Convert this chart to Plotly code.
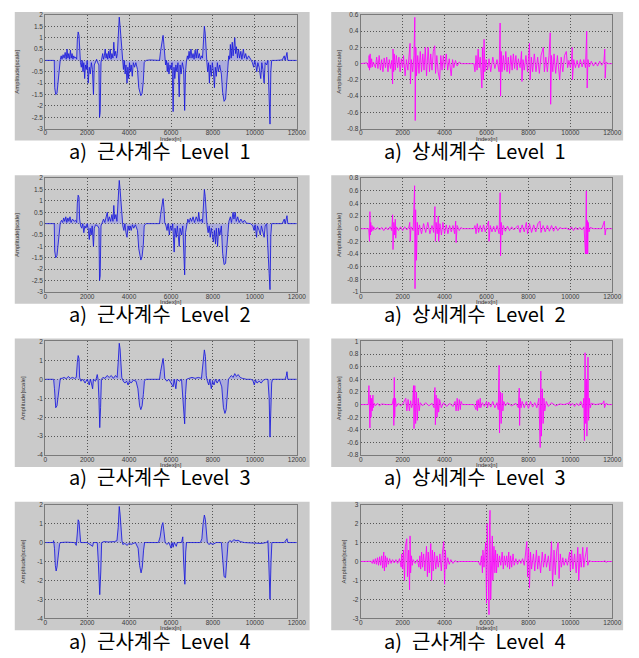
import plotly.graph_objects as go

# ---------------- data (index, amplitude) ----------------
APPROX_L1 = [(0,0),(400,0.02),(430,0),(450,-1.2),(500,-1.5),(560,-1.45),(600,-1.0),(650,-0.5),(700,-0.15),(720,0.05),
(760,0.2),(800,0.05),(850,0.25),(900,0.1),(950,0.35),(1000,0.05),(1040,0.5),(1080,0.1),(1120,0.3),(1160,0.05),(1200,0.45),(1240,0.1),(1280,0.3),(1320,0.05),(1360,0.2),(1400,0.1),(1450,0.15),(1500,0.05),
(1530,0.9),(1570,1.25),(1610,1.1),(1640,0.2),
(1680,-0.1),(1720,-0.3),(1760,0),(1800,-0.5),(1840,-0.1),(1880,-0.8),(1920,-0.2),(1960,-0.4),(2000,0),(2050,-1.0),(2100,-0.3),(2150,-0.6),(2200,-0.1),(2250,-0.4),(2300,-1.5),(2340,-0.2),(2400,-0.1),(2450,0.05),(2500,-0.1),(2560,-0.2),(2590,-2.5),(2620,-2.3),(2660,-0.1),
(2700,0.1),(2740,0.3),(2780,0.05),(2820,0.2),(2860,0.5),(2900,0.1),(2940,0.3),(2980,0.05),(3020,0.4),(3060,0.1),(3100,0.5),(3140,0.05),(3180,0.3),(3230,0.1),(3270,0.8),(3310,0.2),(3360,0.4),(3400,0.1),(3440,0.3),
(3480,1.0),(3530,1.9),(3570,1.5),(3610,1.0),(3650,0.3),
(3690,-0.1),(3730,-0.4),(3770,0),(3810,-0.6),(3850,-0.2),(3900,-1.0),(3940,-0.3),(3980,-0.8),(4020,-0.1),(4060,-0.5),(4100,-0.2),(4150,-0.7),(4200,-0.1),(4260,-0.3),(4320,-0.1),(4400,-0.4),(4460,-1.2),(4560,-1.55),(4620,-1.45),(4680,-0.9),(4720,-0.1),
(4800,0),(5000,0.02),(5200,0),(5450,0),
(5500,0.4),(5570,0.9),(5620,1.1),(5660,0.7),(5700,0.05),
(5740,-0.2),(5780,0),(5820,-0.5),(5860,-0.1),(5900,-0.6),(5950,-0.2),(6000,-0.4),(6050,-0.1),(6100,-2.25),(6140,-0.3),(6180,-0.8),(6230,-0.2),(6280,-0.5),(6330,-0.1),(6390,-1.6),(6430,-0.2),(6480,-0.6),(6540,-0.1),(6600,-0.4),(6650,-2.2),(6690,-0.5),(6740,0),
(6780,0.2),(6820,0.05),(6860,0.4),(6900,0.1),(6950,0.5),(7000,0.1),(7050,0.3),(7100,0.05),(7150,0.45),(7200,0.1),(7250,0.5),(7300,0.1),(7350,0.3),(7400,0.05),(7450,0.2),(7500,0.1),
(7540,1.0),(7590,1.5),(7630,1.2),(7670,0.3),
(7710,-0.1),(7750,-0.5),(7790,-0.1),(7830,-1.0),(7870,-0.2),(7920,-0.7),(7970,-0.1),(8020,-0.5),(8070,-1.2),(8110,-0.3),(8160,-0.7),(8210,-0.1),(8260,-0.5),(8320,-0.2),(8400,-0.6),(8460,-1.4),(8530,-1.8),(8600,-1.7),(8660,-1.0),(8710,-0.1),
(8750,0.2),(8790,0.05),(8830,0.7),(8870,0.1),(8920,0.8),(8960,0.2),(9040,1.0),(9080,0.3),(9120,0.6),(9170,0.1),(9220,0.5),(9270,0.1),(9330,0.4),(9380,0.05),(9450,0.5),(9500,0.1),(9560,0.3),(9620,0.05),(9700,0.2),(9800,0.05),
(9880,-0.1),(9940,-0.3),(9990,0),(10040,-0.2),(10090,-0.5),(10140,-0.1),(10200,-0.3),(10280,-0.8),(10330,-0.1),(10380,-0.4),(10440,-1.0),(10490,-0.1),(10560,-0.2),(10620,0),(10680,-2.0),(10720,-2.8),(10760,-0.5),(10800,0),
(11000,0),(11300,0.02),(11400,0.2),(11440,0),(11530,0.35),(11570,0),(11800,0),(12000,0)]

APPROX_L2 = [(0,0),(400,0.02),(430,0),(450,-1.2),(500,-1.5),(560,-1.4),(620,-0.8),(680,-0.2),(720,0.05),
(780,0.15),(830,0.05),(880,0.25),(930,0.1),(980,0.3),(1030,0.05),(1080,0.25),(1130,0.1),(1180,0.3),(1230,0.05),(1300,0.2),(1380,0.1),(1450,0.15),(1500,0.05),
(1530,0.9),(1570,1.25),(1610,1.15),(1640,0.2),
(1690,-0.1),(1740,-0.2),(1790,0),(1840,-0.4),(1890,-0.1),(1940,-0.2),(2000,0),(2060,-0.3),(2100,-0.7),(2140,-0.2),(2190,-0.5),(2240,-0.1),(2300,-1.0),(2340,-0.2),(2400,-0.05),(2500,-0.1),(2560,-0.2),(2590,-2.5),(2620,-2.3),(2660,-0.1),
(2720,0.1),(2780,0.2),(2840,0.05),(2900,0.3),(2960,0.5),(3000,0.1),(3060,0.3),(3120,0.1),(3180,0.4),(3230,0.1),(3270,0.8),(3310,0.2),(3370,0.4),(3420,0.1),
(3480,1.0),(3530,1.9),(3570,1.5),(3610,1.0),(3650,0.2),
(3700,-0.1),(3750,-0.3),(3800,0),(3850,-0.4),(3900,-0.6),(3950,-0.1),(4000,-0.3),(4050,-0.1),(4100,-0.3),(4160,-0.05),(4220,-0.2),(4300,-0.05),(4400,-0.3),(4460,-1.1),(4560,-1.6),(4620,-1.45),(4680,-0.9),(4720,-0.1),
(4800,0),(5200,0),(5450,0),
(5500,0.4),(5570,0.9),(5620,1.1),(5660,0.7),(5700,0.05),
(5760,-0.1),(5810,-0.3),(5860,0),(5920,-0.5),(5970,-0.1),(6030,-0.3),(6080,0),(6150,-1.25),(6190,-0.2),(6250,-0.6),(6300,-0.1),(6390,-1.0),(6430,-0.2),(6500,-0.5),(6560,-0.1),(6650,-2.25),(6690,-0.4),(6740,0),
(6800,0.2),(6860,0.05),(6920,0.25),(6980,0.1),(7050,0.3),(7120,0.05),(7200,0.3),(7280,0.1),(7320,0.5),(7370,0.1),(7450,0.2),(7500,0.05),
(7540,1.0),(7590,1.5),(7630,1.2),(7670,0.3),
(7720,-0.1),(7770,-0.4),(7820,-0.1),(7870,-0.6),(7920,-0.2),(8020,-0.8),(8070,-0.3),(8120,-0.9),(8160,-0.2),(8220,-1.0),(8270,-0.2),(8330,-0.5),(8400,-0.1),(8460,-1.3),(8530,-1.8),(8600,-1.75),(8660,-1.0),(8710,-0.1),
(8760,0.1),(8830,0.3),(8880,0.05),(8960,0.5),(9000,0.2),(9060,0.5),(9110,0.1),(9180,0.3),(9250,0.05),(9330,0.2),(9420,0.05),(9500,0.15),(9600,0.02),(9800,0),
(9900,-0.1),(9960,-0.3),(10010,-0.05),(10080,-0.6),(10120,-0.1),(10200,-0.3),(10260,-0.5),(10310,-0.1),(10400,-0.4),(10440,-0.6),(10490,-0.1),(10560,0),(10680,-2.2),(10720,-2.9),(10760,-0.5),(10800,0),
(11000,0),(11300,0),(11400,0.2),(11440,0),(11530,0.35),(11570,0),(12000,0)]

APPROX_L3 = [(0,0),(400,0),(440,-0.5),(500,-1.5),(560,-1.4),(620,-0.8),(680,-0.2),(720,0.05),
(800,0.05),(900,0.1),(1000,0.03),(1100,0.15),(1200,0.05),(1300,0.1),(1400,0.05),(1480,0.1),
(1530,0.9),(1570,1.25),(1610,1.1),(1640,0.1),
(1700,-0.1),(1800,0),(1900,-0.2),(2000,0),(2100,-0.3),(2150,0),(2200,-0.2),(2260,-0.5),(2300,0),(2400,-0.1),(2480,0.25),(2520,0),(2560,-1.0),(2600,-2.55),(2640,-1.5),(2680,0),
(2750,0.1),(2850,0.05),(2950,0.2),(3050,0.1),(3150,0.2),(3250,0.05),(3350,0.2),(3430,0.1),
(3480,0.9),(3530,1.9),(3570,1.6),(3610,0.8),(3650,0.1),
(3720,-0.1),(3800,-0.2),(3880,-0.1),(3950,-0.3),(4020,-0.1),(4100,-0.2),(4200,-0.05),(4330,-0.1),(4420,-0.5),(4500,-1.4),(4560,-1.6),(4620,-1.4),(4680,-0.8),(4730,-0.1),
(4800,0),(5450,0),
(5500,0.4),(5570,0.9),(5620,1.1),(5660,0.7),(5700,0.05),
(5800,-0.1),(5900,0),(6000,-0.2),(6100,-0.4),(6150,0),(6230,-0.5),(6280,0),(6400,-0.1),(6500,0),(6600,-1.5),(6650,-2.35),(6690,-0.8),(6740,0),
(6850,0.05),(7000,0.1),(7150,0.05),(7300,0.1),(7450,0.05),
(7530,0.8),(7590,1.55),(7640,1.2),(7680,0.2),
(7730,-0.1),(7800,-0.3),(7850,0),(7920,-0.5),(7980,-0.1),(8050,-0.3),(8120,0),(8200,-0.2),(8300,0),(8420,-0.4),(8500,-1.5),(8570,-1.8),(8630,-1.6),(8690,-0.8),(8740,0),
(8800,0.1),(8880,0.2),(8960,0.1),(9040,0.3),(9120,0.15),(9200,0.25),(9300,0.1),(9400,0.05),(9600,0),(9800,0),
(9900,-0.05),(9971,-0.3),(10030,-0.05),(10100,-0.2),(10200,-0.1),(10300,-0.2),(10400,-0.05),(10500,0),(10620,0),(10680,-1.0),(10720,-3.05),(10760,-1.5),(10800,-0.2),(10840,0),
(11000,0),(11440,0),(11500,0.2),(11530,0.4),(11570,0),(12000,0)]

APPROX_L4 = [(0,0),(380,0),(400,0.1),(440,-0.3),(480,-1.2),(520,-1.5),(560,-1.3),(620,-0.6),(680,-0.1),(720,0),
(1000,0.02),(1400,0),(1480,-0.15),(1530,0.5),(1570,1.2),(1610,1.1),(1650,0.3),(1690,0),
(2000,0),(2259,-0.2),(2300,0),(2480,0),(2530,-1.0),(2600,-2.75),(2650,-1.5),(2690,0),
(2800,0.05),(3000,0.03),(3300,0.05),(3420,0.1),(3480,0.8),(3530,1.9),(3570,1.5),(3620,0.6),(3660,0.1),
(3700,-0.1),(3800,-0.05),(3900,-0.15),(4000,-0.05),(4100,-0.1),(4300,0),(4430,-0.3),(4500,-1.2),(4570,-1.6),(4630,-1.3),(4690,-0.4),(4740,0),
(5400,0),(5480,0.3),(5560,0.9),(5610,1.05),(5660,0.6),(5720,0),
(5800,-0.1),(5900,0),(6000,-0.3),(6050,0),(6100,-0.25),(6150,0),(6250,-0.2),(6300,0),(6500,0),(6560,0.3),(6600,-1.0),(6660,-2.2),(6700,-0.5),(6740,0),
(7400,0),(7470,0.2),(7530,1.0),(7590,1.45),(7640,1.2),(7690,0.2),(7730,0),
(7800,-0.1),(7900,-0.05),(8000,-0.1),(8150,0),(8400,0),(8450,-0.6),(8530,-1.8),(8600,-1.85),(8660,-1.0),(8720,0),
(8800,0.1),(8900,0.05),(9000,0.15),(9100,0.1),(9200,0.12),(9300,0.05),(9500,0),(10000,-0.05),(10300,-0.05),(10550,0),(10620,0.1),(10660,-1.0),(10720,-3.0),(10770,-1.0),(10810,0),
(11400,0),(11480,0.1),(11530,0.2),(11570,0),(12000,0)]

DETAIL_L1 = [(0,0),(300,0.01),(380,-0.05),(400,0.1),(420,-0.08),(450,0.12),(480,-0.05),(520,0.06),(560,-0.04),(600,0.02),
(700,-0.05),(760,0.08),(820,-0.06),(880,0.1),(940,-0.08),(1000,0.05),(1060,-0.1),(1120,0.07),(1180,-0.05),(1240,0.08),(1300,-0.1),(1360,0.05),(1420,-0.06),(1480,0.04),
(1520,-0.25),(1540,0.18),(1570,-0.1),(1600,0.12),(1650,-0.08),
(1700,0.1),(1760,-0.05),(1820,0.08),(1880,-0.1),(1940,0.06),(2000,-0.05),(2040,0.1),(2118,-0.15),(2180,0.05),(2250,-0.08),(2300,0.1),(2354,0.25),(2370,-0.25),(2420,0.05),(2480,-0.1),(2540,0.1),
(2580,0.57),(2600,-0.7),(2630,0.2),(2660,-0.15),
(2720,0.1),(2780,-0.12),(2840,0.15),(2900,-0.1),(2960,0.12),(3020,-0.08),(3080,0.2),(3140,-0.15),(3216,0.2),(3280,-0.1),(3340,0.12),(3400,-0.08),(3460,0.15),(3530,0.22),(3570,-0.12),(3630,0.1),(3690,-0.1),(3766,-0.2),(3820,0.1),(3880,-0.08),(3940,0.1),(4000,-0.06),(4079,0.12),(4150,-0.08),(4220,0.06),(4315,-0.15),(4380,0.05),(4440,-0.05),(4520,0.04),(4600,-0.03),(4700,0.02),
(4800,0),(5400,0),
(5450,-0.1),(5500,0.1),(5550,-0.08),(5601,0.18),(5650,-0.05),(5700,0.08),
(5780,-0.3),(5805,0.2),(5850,-0.2),(5884,0.3),(5920,-0.1),(5980,0.05),(6050,-0.08),(6120,0.06),(6200,-0.1),(6300,0.08),(6400,-0.06),(6500,0.05),(6600,-0.1),
(6650,0.5),(6670,-0.4),(6700,0.15),(6740,-0.1),
(6800,0.1),(6860,-0.08),(6920,0.15),(6980,-0.1),(7040,0.08),(7100,-0.12),(7160,0.1),(7220,-0.08),(7280,0.12),(7340,-0.06),(7400,0.1),(7460,-0.08),(7520,0.06),(7600,-0.05),
(7670,0.15),(7690,-0.22),(7740,0.05),(7800,-0.08),(7880,0.1),(7960,-0.1),(8049,0.25),(8080,-0.2),(8140,0.08),(8200,-0.1),(8280,0.12),(8360,-0.1),(8440,0.08),(8520,-0.12),(8600,0.1),(8708,0.2),(8760,-0.1),(8830,0.08),(8900,-0.1),(8980,0.1),
(9040,0.38),(9060,-0.5),(9100,0.1),(9160,-0.1),(9220,0.12),(9300,-0.12),(9380,0.1),(9492,-0.2),(9560,0.08),(9640,-0.1),(9720,0.1),(9806,0.15),(9870,-0.05),(9930,0.04),
(10000,-0.05),(10060,0.06),(10089,0.2),(10100,-0.2),(10160,0.05),(10240,-0.05),(10320,0.04),(10400,-0.05),(10480,0.05),(10560,-0.04),(10640,0.05),(10720,-0.05),
(10780,0.4),(10800,-0.3),(10840,0.05),(10900,-0.04),(11000,0.03),(11100,-0.03),(11200,0.02),(11300,-0.03),(11400,0.03),(11500,-0.02),(11600,0.03),
(11640,0.18),(11660,-0.18),(11700,0.02),(11800,0),(12000,0)]

DETAIL_L2 = [(0,0),(380,0),(420,-0.2),(440,0.27),(460,-0.1),(480,0.1),(500,-0.05),(540,0.05),(580,-0.03),(620,0.03),(700,-0.02),(800,0.02),(900,-0.02),(1000,0.02),(1100,-0.03),(1200,0.02),(1300,-0.02),(1400,0.03),(1480,-0.03),
(1520,0.22),(1540,-0.33),(1580,0.1),(1620,-0.1),(1647,0.15),(1670,-0.15),(1700,0.03),(1800,-0.03),(1900,0.03),(2000,-0.03),(2100,0.03),(2200,-0.02),(2300,0.03),(2340,0.1),(2360,-0.2),(2400,0.03),(2500,-0.03),
(2570,0.68),(2590,-0.95),(2620,0.3),(2660,-0.5),(2700,0.1),(2746,-0.1),(2800,0.06),(2900,-0.08),(3000,0.08),(3100,-0.06),(3200,0.1),(3300,-0.08),(3400,0.05),(3480,-0.06),
(3540,0.35),(3562,-0.2),(3600,0.1),(3650,-0.08),(3700,0.2),(3719,-0.2),(3780,0.08),(3850,-0.1),(3920,0.1),(4000,-0.08),(4080,0.06),(4160,-0.08),(4240,0.05),(4320,-0.05),(4400,0.05),(4480,-0.08),(4530,0.12),(4550,-0.22),(4600,0.05),(4700,-0.03),(4785,0.02),
(4850,0),(5400,0),(5450,0.05),(5500,-0.08),(5560,0.08),(5620,-0.06),(5700,0.05),(5780,-0.05),(5860,0.06),(5940,-0.05),(6020,0.04),(6100,0.12),(6119,-0.2),(6180,0.05),(6260,-0.05),(6340,0.04),(6420,-0.05),(6500,0.05),(6600,-0.08),
(6650,0.57),(6670,-0.43),(6700,0.1),(6750,-0.1),(6800,0.05),(6900,-0.04),(7000,0.04),(7100,-0.03),(7200,0.03),(7300,-0.02),(7400,0.02),(7500,0.05),(7600,-0.06),(7700,0.06),(7800,-0.05),(7900,0.1),(7960,-0.08),(8050,0.08),(8150,-0.06),(8250,0.06),(8350,-0.05),(8450,0.08),(8551,0.12),(8600,-0.06),(8700,0.05),(8800,-0.05),(8900,0.05),(9000,-0.04),(9100,0.05),(9200,-0.04),(9300,0.04),(9400,-0.03),(9500,0.02),
(9600,0),(9800,0.01),(9950,-0.02),(10050,0.03),(10150,-0.03),(10250,0.02),(10350,-0.02),(10450,0.02),(10550,-0.02),(10650,0.03),
(10720,-0.4),(10760,0.6),(10780,-0.4),(10810,0.13),(10826,-0.4),(10850,0.1),(10890,-0.05),(10950,0.02),(11100,0),(11500,0),(11620,0.12),(11658,-0.1),(11700,0),(12000,0)]

DETAIL_L3 = [(0,0),(360,0),(392,0.3),(410,-0.1),(439,-0.37),(460,0.15),(490,-0.2),(520,0.1),(549,-0.1),(581,0.15),(600,-0.05),(650,0.02),(700,-0.02),(800,0.02),(900,-0.02),(1000,0.01),(1200,0),(1500,0),(1560,0.1),
(1580,-0.33),(1600,0.43),(1620,-0.2),(1650,0.1),(1700,-0.03),(1800,0.02),(1900,-0.02),(2000,0.01),(2150,0.1),(2200,-0.1),(2260,0.08),(2320,-0.1),(2380,0.06),(2430,-0.05),(2480,0.02),
(2520,0.3),(2542,-0.38),(2580,0.3),(2620,-0.3),(2660,0.2),(2700,-0.25),(2746,0.1),(2790,-0.1),(2840,0.03),(2950,-0.02),(3100,0.03),(3250,-0.02),(3400,0.02),(3500,-0.05),
(3540,0.27),(3562,-0.32),(3600,0.15),(3640,-0.2),(3680,0.1),(3719,-0.12),(3766,0.08),(3844,-0.05),(3950,0.03),(4100,-0.03),(4250,0.02),(4400,-0.03),(4500,0.05),(4550,-0.1),(4600,0.1),(4650,-0.1),(4700,0.08),(4750,-0.08),(4785,0.05),(4850,0),
(5400,0),(5500,-0.08),(5540,0.06),(5570,-0.1),(5601,0.08),(5650,-0.05),(5700,0.1),(5727,-0.05),(5800,0.03),(5900,-0.03),(6000,0.05),(6050,-0.05),(6100,0.04),(6200,-0.04),(6300,0.05),(6400,-0.05),(6500,0.03),(6560,-0.08),
(6600,0.62),(6620,-0.45),(6660,0.2),(6700,-0.3),(6747,0.18),(6780,-0.1),(6825,0.05),(6900,-0.02),(7000,0.03),(7200,-0.02),(7400,0.02),(7520,-0.05),
(7560,0.26),(7578,-0.33),(7610,0.1),(7650,-0.05),(7700,0.05),(7800,-0.05),(7900,0.05),(8000,-0.06),(8100,0.05),(8200,-0.04),(8300,0.03),(8400,-0.05),(8500,0.1),
(8560,-0.68),(8590,0.53),(8620,-0.5),(8660,0.25),(8700,-0.3),(8740,0.1),(8780,-0.1),(8850,0.05),(8950,-0.03),(9100,0.03),(9300,-0.02),(9500,0.01),(9700,0),
(9900,0.02),(9963,0.04),(10000,-0.02),(10100,0.02),(10200,-0.03),(10300,0.02),(10400,-0.02),(10500,0.05),(10600,-0.05),(10640,0.1),
(10669,-0.57),(10700,0.82),(10730,-0.3),(10760,0.4),(10790,-0.5),(10840,0.75),(10870,-0.25),(10905,0.1),(10950,-0.05),(11000,0.02),(11200,0),(11550,0.02),(11600,0.06),(11630,-0.05),(11700,0.02),(11800,0),(12000,0)]

DETAIL_L4 = [(0,0),(500,0.01),(550,-0.1),(600,0.1),(650,-0.12),(700,0.15),(750,-0.15),(800,0.2),(850,-0.2),(900,0.25),(950,-0.2),(1000,0.3),(1050,-0.35),(1098,0.5),(1130,-0.5),(1180,0.3),(1220,-0.3),(1260,0.2),(1320,-0.15),(1380,0.15),(1450,-0.1),(1520,0.1),(1600,-0.08),(1680,0.1),(1760,-0.1),(1850,0.15),(1930,-0.3),(1960,0.4),(2000,-0.4),
(2040,0.6),(2087,-1.0),(2130,0.8),(2197,1.2),(2230,-0.8),(2280,0.6),(2330,-1.5),(2354,1.35),(2380,-0.6),(2420,0.3),(2460,-0.2),(2500,0.1),(2600,-0.1),(2700,0.1),(2777,-0.3),(2820,0.3),(2860,-0.4),(2903,0.5),(2950,-0.3),(3000,0.4),(3060,-0.5),(3138,0.8),(3180,-0.8),(3220,0.5),(3270,-0.6),(3342,0.95),(3380,-1.0),(3420,0.6),(3460,-0.5),(3520,0.5),(3580,-0.4),(3640,0.3),(3700,-0.3),(3780,0.4),(3844,-0.5),(3900,0.5),
(3960,1.05),(4001,-1.2),(4040,0.6),(4080,-0.4),(4150,0.2),(4220,-0.15),(4300,0.1),(4400,-0.1),(4500,0.05),(4600,-0.03),(4700,0),(5600,0),(5700,-0.2),(5760,0.3),(5805,-0.6),(5830,0.6),(5880,-0.3),
(5960,1.0),(6000,-2.2),(6030,2.0),(6080,-1.6),(6119,-2.8),(6140,1.5),(6166,2.7),(6200,-2.0),(6240,1.0),(6276,1.35),(6300,-1.0),(6355,0.8),(6400,-0.6),(6433,0.6),(6480,-0.6),(6520,0.4),(6560,-0.3),(6620,0.3),(6680,-0.2),(6747,0.5),(6800,-0.4),(6850,0.3),(6900,-0.2),(6960,0.3),(7000,-0.3),(7061,0.5),(7100,-0.4),(7150,0.3),(7200,-0.3),(7265,0.4),(7320,-0.2),(7400,0.15),(7480,-0.15),(7560,0.1),(7640,-0.1),(7720,0.15),(7800,-0.2),(7860,0.3),
(7923,1.05),(7960,-0.8),(8010,0.7),(8049,-1.4),(8100,0.5),(8150,-0.4),(8240,0.4),(8300,-0.5),(8380,0.6),(8440,-0.4),(8500,0.3),(8580,-0.6),(8660,0.5),(8720,-0.3),(8800,0.4),(8860,-0.3),(8950,0.3),(9022,-0.5),
(9100,1.05),(9150,-1.3),(9220,0.6),(9280,-0.7),(9340,0.5),(9414,1.0),(9460,-0.9),(9520,0.4),(9570,-0.3),(9640,0.2),(9700,-0.2),(9780,0.15),(9860,-0.2),(9963,0.5),(10000,-0.5),(10060,0.6),(10120,-0.4),(10200,0.4),(10277,-0.6),(10355,0.75),(10400,-1.0),(10460,0.4),(10520,-0.3),(10591,0.75),(10640,-0.3),(10700,0.2),(10795,0.75),(10830,-0.2),(10900,0.05),(11000,0),(11600,0),(11650,0.05),(11700,-0.05),(11750,0),(12000,0)]

CAPTIONS_LEFT = ["a) 근사계수 Level 1", "a) 근사계수 Level 2", "a) 근사계수 Level 3", "a) 근사계수 Level 4"]
CAPTIONS_RIGHT = ["a) 상세계수 Level 1", "a) 상세계수 Level 2", "a) 상세계수 Level 3", "a) 근사계수 Level 4"]

Y_RANGE_LEFT = [(-3, 2, 0.5), (-3, 2, 0.5), (-4, 2, 1), (-4, 2, 1)]
Y_RANGE_RIGHT = [(-0.8, 0.6, 0.2), (-1, 0.8, 0.2), (-0.8, 1, 0.2), (-3, 3, 1)]
X_TICKS = [0, 2000, 4000, 6000, 8000, 10000, 12000]

LEFT_SERIES = [APPROX_L1, APPROX_L2, APPROX_L3, APPROX_L4]
RIGHT_SERIES = [DETAIL_L1, DETAIL_L2, DETAIL_L3, DETAIL_L4]

# ---------------- layout ----------------
W, H = 639, 658
PITCH = 165
TOP0, BOT0 = 11, 126
# plot x0, x1, grey x0, grey x1, caption centre, y-title standoff
COLS = [(44, 300, 13, 313, 161, 11), (365, 621, 335, 632, 481, 5)]
TICK_FONT = dict(size=6.5, color="#3a3a3a", family="Arial")
SMALL_FONT = dict(size=6, color="#333", family="Arial")
CAP_SIZE = 20

def py(v):
    return 1 - v / H

def fmt(v):
    s = ("%.1f" % v).rstrip("0").rstrip(".")
    return "0" if s in ("-0", "0") else s

fig = go.Figure()
layout = dict(width=W, height=H, margin=dict(l=0, r=0, t=0, b=0),
              paper_bgcolor="white", plot_bgcolor="white", showlegend=False,
              shapes=[], annotations=[])

n = 0
for row in range(4):
    for col in range(2):
        n += 1
        x0, x1, gx0, gx1, cx, ystand = COLS[col]
        top = TOP0 + PITCH * row
        bot = BOT0 + PITCH * row
        data = LEFT_SERIES[row] if col == 0 else RIGHT_SERIES[row]
        lo, hi, step = (Y_RANGE_LEFT if col == 0 else Y_RANGE_RIGHT)[row]
        nt = int(round((hi - lo) / step))
        yt = [round(lo + k * step, 3) for k in range(nt + 1)]
        xs = [p[0] for p in data]
        ys = [p[1] for p in data]
        if col == 0:
            line_c, fill_c = "rgba(25,25,220,0.85)", "rgba(110,110,255,0.32)"
        else:
            line_c, fill_c = "rgba(255,0,255,0.85)", "rgba(255,100,255,0.32)"
        sfx = "" if n == 1 else str(n)
        fig.add_trace(go.Scatter(x=xs, y=ys, mode="lines", fill="tozeroy",
                                 fillcolor=fill_c, line=dict(color=line_c, width=1),
                                 xaxis="x" + sfx, yaxis="y" + sfx, hoverinfo="skip"))
        common = dict(showline=True, mirror=True, linecolor="#7a7a7a", linewidth=1,
                      showgrid=True, gridcolor="#555", griddash="1px,2px", gridwidth=1,
                      zeroline=False, ticks="", tickfont=TICK_FONT)
        layout["xaxis" + sfx] = dict(common, domain=[x0 / W, x1 / W], anchor="y" + sfx,
                                     range=[0, 12000], tickvals=X_TICKS,
                                     ticktext=[str(v) for v in X_TICKS],
                                     ticklabelstandoff=-2)
        layout["yaxis" + sfx] = dict(common, domain=[py(bot), py(top)], anchor="x" + sfx,
                                     range=[lo, hi], tickvals=yt, ticktext=[fmt(v) for v in yt],
                                     title=dict(text="Amplitude[scale]", font=SMALL_FONT, standoff=ystand))
        # x-axis title placed just under the tick labels, as in the reference
        layout["annotations"].append(dict(text="Index[n]", x=(x0 + x1) / 2 / W, y=py(bot + 10),
                                          xref="paper", yref="paper", showarrow=False,
                                          xanchor="center", yanchor="middle", font=SMALL_FONT))
        layout["shapes"].append(dict(type="rect", xref="paper", yref="paper",
                                     x0=gx0 / W, x1=gx1 / W, y0=py(bot + 12), y1=py(top - 3),
                                     fillcolor="#cacaca", line=dict(width=0), layer="below"))
        cap = (CAPTIONS_LEFT if col == 0 else CAPTIONS_RIGHT)[row]
        cy = 148 + PITCH * row
        layout["annotations"].append(dict(text=cap.replace(" ", "\u2002"), x=cx / W, y=py(cy),
                                          xref="paper", yref="paper", showarrow=False,
                                          xanchor="center", yanchor="middle",
                                          font=dict(size=CAP_SIZE, color="black", family="Noto Sans CJK KR")))

fig.update_layout(**layout)
fig.write_html("out.html")
